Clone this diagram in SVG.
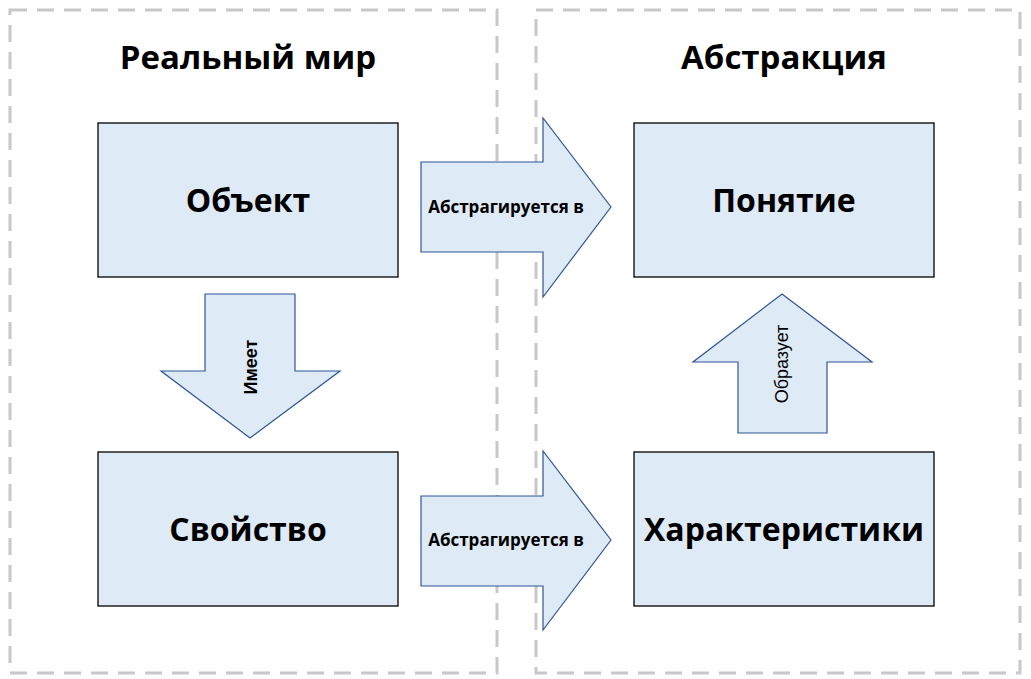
<svg xmlns="http://www.w3.org/2000/svg" width="1031" height="679" viewBox="0 0 1031 679">
<style>
.frame{fill:none;stroke:#c8c8c8;stroke-width:3;stroke-dasharray:17,10}
.box{fill:#deeaf6;stroke:#000;stroke-width:1.3}
.arr{fill:#deeaf6;stroke:#2f5597;stroke-width:1.2}
.title{font-family:"Open Sans","Liberation Sans",sans-serif;font-weight:bold;font-size:33px;fill:#000;text-anchor:middle}
.lbl{font-family:"Open Sans","Liberation Sans",sans-serif;font-weight:bold;font-size:32px;fill:#000;text-anchor:middle}
.al{font-family:"Open Sans","Liberation Sans",sans-serif;font-weight:bold;font-size:17px;fill:#000;text-anchor:middle}
.vl{font-family:"Liberation Sans",Arial,sans-serif;font-size:18px;fill:#000;text-anchor:middle}
</style>
<rect width="1031" height="679" fill="#fff"/>
<g id="frames">
<rect class="frame" x="10" y="10" width="487" height="663"/>
<rect class="frame" x="536" y="10" width="484" height="663"/>
<text class="title" x="248" y="69">Реальный мир</text>
<text class="title" x="784" y="69">Абстракция</text>
</g>
<g id="connectors">
<g id="arrow-abs1"><path class="arr" d="M421,162 H543 V118 L611,207 L543,297 V252 H421 Z"/><text class="al" x="506" y="213">Абстрагируется в</text></g>
<g id="arrow-abs2"><path class="arr" d="M421,496 H543 V451 L611,540 L543,630 V586 H421 Z"/><text class="al" x="506" y="546">Абстрагируется в</text></g>
<g id="arrow-has"><path class="arr" d="M205,294 H295 V371 H340 L250,438 L161,371 H205 Z"/><text class="vl" font-weight="bold" transform="translate(257,367) rotate(-90)">Имеет</text></g>
<g id="arrow-forms"><path class="arr" d="M782,294 L872,362 H827 V433 H738 V362 H693 Z"/><text class="vl" font-size="20" transform="translate(788,364) rotate(-90)">Образует</text></g>
</g>
<g id="node-object"><rect class="box" x="98" y="123" width="300" height="154"/><text class="lbl" x="248" y="212">Объект</text></g>
<g id="node-property"><rect class="box" x="98" y="452" width="300" height="154"/><text class="lbl" x="248" y="541">Свойство</text></g>
<g id="node-concept"><rect class="box" x="634" y="123" width="300" height="154"/><text class="lbl" x="784" y="212">Понятие</text></g>
<g id="node-characteristics"><rect class="box" x="634" y="452" width="300" height="154"/><text class="lbl" x="784" y="541">Характеристики</text></g>
</svg>
